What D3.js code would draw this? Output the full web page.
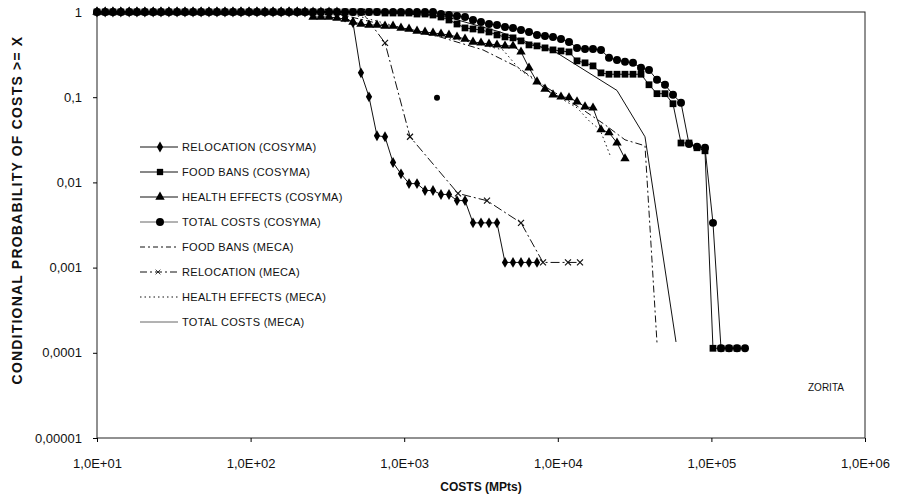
<!DOCTYPE html>
<html>
<head>
<meta charset="utf-8">
<script src="https://cdn.jsdelivr.net/npm/d3@7"></script>
<style>
body { margin: 0; background: #fff; }
text { font-family: "Liberation Sans", Arial, sans-serif; fill: #111; }
</style>
</head>
<body>
<div id="chart"></div>
<script>
const width = 918
const height = 496

// cost classes (MPts) used by the COSYMA curves
const costClasses = [
  10, 11.3, 12.7, 14.3, 16.2, 18.2, 20.5, 23.2, 26.1, 29.4,
  33.2, 37.4, 42.2, 47.6, 53.6, 60.4, 68.1, 76.8, 86.6, 97.7,
  110, 124, 140, 158, 178, 201, 226, 255, 287, 324,
  365, 412, 464, 523, 590, 665, 750, 846, 953, 1075,
  1212, 1366, 1540, 1736, 1957, 2207, 2488, 2805, 3162, 3565,
  4019, 4532, 5109, 5760, 6494, 7321, 8254, 9306, 10490, 11830,
  13340, 15040, 16950, 19110, 21540, 24290, 27380, 30870, 34810, 39240,
  44240, 49880, 56230, 63400, 71480, 80580, 90850, 102400, 115500, 130200,
  146800, 165500
]

const relocationCosyma = [
  1, 1, 1, 1, 1, 1, 1, 1, 1, 1,
  1, 1, 1, 1, 1, 1, 1, 1, 1, 1,
  1, 1, 1, 1, 1, 1, 1, 1, 1, 1,
  1, 0.87, 0.749, 0.193, 0.101, 0.0353, 0.0343, 0.0171, 0.0126, 0.00968,
  0.00968, 0.00804, 0.00804, 0.00722, 0.00722, 0.00612, 0.00612, 0.00335, 0.00335, 0.00335,
  0.00335, 0.00115, 0.00115, 0.00115, 0.00115, 0.00115
]

const foodBansCosyma = [
  1, 1, 1, 1, 1, 1, 1, 1, 1, 1,
  1, 1, 1, 1, 1, 1, 1, 1, 1, 1,
  1, 1, 1, 1, 1, 1, 1, 1, 1, 1,
  1, 1, 1, 1, 1, 1, 0.973, 0.973, 0.973, 0.973,
  0.947, 0.947, 0.922, 0.874, 0.806, 0.723, 0.650, 0.632, 0.615, 0.583,
  0.538, 0.510, 0.497, 0.458, 0.411, 0.400, 0.379, 0.359, 0.349, 0.340,
  0.267, 0.253, 0.233, 0.193, 0.186, 0.186, 0.186, 0.186, 0.186, 0.140,
  0.110, 0.110, 0.0838, 0.029, 0.029, 0.0255, 0.0235, 0.000113, 0.000113, 0.000113,
  0.000113
]

const healthCosyma = [
  1, 1, 1, 1, 1, 1, 1, 1, 1, 1,
  1, 1, 1, 1, 1, 1, 1, 1, 1, 1,
  1, 1, 1, 1, 1, 1, 1, 0.874, 0.874, 0.874,
  0.851, 0.828, 0.764, 0.723, 0.704, 0.704, 0.686, 0.686, 0.650, 0.632,
  0.599, 0.583, 0.568, 0.553, 0.538, 0.510, 0.483, 0.445, 0.434, 0.422,
  0.411, 0.400, 0.400, 0.340, 0.221, 0.152, 0.125, 0.107, 0.101, 0.0988,
  0.0886, 0.0772, 0.0751, 0.0417, 0.0384, 0.0291, 0.0190
]

const totalCosyma = [
  1, 1, 1, 1, 1, 1, 1, 1, 1, 1,
  1, 1, 1, 1, 1, 1, 1, 1, 1, 1,
  1, 1, 1, 1, 1, 1, 1, 1, 1, 1,
  1, 1, 1, 1, 1, 1, 1, 1, 1, 1,
  1, 1, 1, 0.947, 0.922, 0.898, 0.874, 0.806, 0.764, 0.723,
  0.704, 0.667, 0.650, 0.615, 0.583, 0.538, 0.524, 0.510, 0.483, 0.445,
  0.379, 0.369, 0.369, 0.359, 0.290, 0.274, 0.260, 0.253, 0.221, 0.209,
  0.160, 0.140, 0.107, 0.0861, 0.0283, 0.0262, 0.0255, 0.00335, 0.000113, 0.000113,
  0.000113, 0.000113
]

// MECA curves: [cost, probability]
const foodBansMeca = [[10, 1], [329, 1], [898, 0.650], [1711, 0.510], [3259, 0.359], [5425, 0.227],
  [8507, 0.129], [13950, 0.0751], [20290, 0.0475], [27380, 0.0316], [36960, 0.0269], [44250, 0.00013]]
const relocationMeca = [[104, 1], [204, 1], [319, 1], [531, 1], [750, 0.434], [1091, 0.0343],
  [2240, 0.00742], [3460, 0.0061], [5760, 0.00335], [8010, 0.00115], [11650, 0.00115], [13950, 0.00115]]
const healthMeca = [[10, 1], [444, 0.95], [1141, 0.6], [2682, 0.445], [4398, 0.359], [5675, 0.209],
  [6592, 0.174], [8507, 0.122], [10810, 0.0936], [13340, 0.0751], [16200, 0.0515], [18820, 0.0417], [22210, 0.0195]]
const totalMeca = [[10, 1], [696, 1], [1899, 0.874], [4205, 0.583], [9881, 0.331], [24290, 0.12],
  [36960, 0.0343], [58830, 0.000134]]
const strayPoint = [[1635, 0.0988]]

const xTickValues = [1e1, 1e2, 1e3, 1e4, 1e5, 1e6]
const xTickLabels = ["1,0E+01", "1,0E+02", "1,0E+03", "1,0E+04", "1,0E+05", "1,0E+06"]
const yTickValues = [1, 0.1, 0.01, 0.001, 0.0001, 0.00001]
const yTickLabels = ["1", "0,1", "0,01", "0,001", "0,0001", "0,00001"]
const legendLabels = ["RELOCATION (COSYMA)", "FOOD BANS (COSYMA)", "HEALTH EFFECTS (COSYMA)", "TOTAL COSTS (COSYMA)",
  "FOOD BANS (MECA)", "RELOCATION (MECA)", "HEALTH EFFECTS (MECA)", "TOTAL COSTS (MECA)"]

const crossPath = "M-3,-3L3,3M-3,3L3,-3"

document.addEventListener('DOMContentLoaded', function ()
{
const svg = d3.select("#chart")
    .append("svg")
    .attr("width", width)
    .attr("height", height)

const x = d3.scaleLog().domain([10, 1e6]).range([97, 865])
const y = d3.scaleLog().domain([1e-5, 1]).range([438, 12])

const line = d3.line().x(d => x(d[0])).y(d => y(d[1]))
const pairs = probs => probs.map((p, i) => [costClasses[i], p])

/* frame */
svg.append("rect")
    .attr("x", 97)
    .attr("y", 12)
    .attr("width", 768)
    .attr("height", 426)
    .attr("fill", "none")
    .attr("stroke", "#222")
    .attr("stroke-width", 1)

/* axes */
const xAxis = svg.append("g")
    .attr("transform", "translate(0,438)")
    .call(d3.axisBottom(x).tickValues(xTickValues).tickFormat((d, i) => xTickLabels[i])
        .tickSize(4).tickPadding(17).tickSizeOuter(0))
xAxis.select(".domain").remove()
xAxis.selectAll("text").attr("font-size", 13).attr("font-family", null)

const yAxis = svg.append("g")
    .attr("transform", "translate(97,0)")
    .call(d3.axisLeft(y).tickValues(yTickValues).tickFormat((d, i) => yTickLabels[i])
        .tickSize(4).tickPadding(11).tickSizeOuter(0))
yAxis.select(".domain").remove()
yAxis.selectAll("text").attr("font-size", 13).attr("font-family", null)

svg.append("text")
    .attr("x", 481)
    .attr("y", 491)
    .attr("text-anchor", "middle")
    .attr("font-size", 12)
    .attr("font-weight", "bold")
    .text("COSTS (MPts)")

svg.append("text")
    .attr("transform", "translate(22,210) rotate(-90)")
    .attr("text-anchor", "middle")
    .attr("font-size", 14)
    .attr("font-weight", "bold")
    .attr("letter-spacing", 1.2)
    .text("CONDITIONAL PROBABILITY OF COSTS >= X")

svg.append("text")
    .attr("x", 808)
    .attr("y", 391)
    .attr("font-size", 10)
    .text("ZORITA")

/* MECA lines */
const mecaStyles = [
    {data: foodBansMeca, dash: "7,3,2,3"},
    {data: relocationMeca, dash: "9,3,2,3"},
    {data: healthMeca, dash: "1.5,3"},
    {data: totalMeca, dash: null}
]
mecaStyles.forEach(s => {
    svg.append("path")
        .attr("d", line(s.data))
        .attr("fill", "none")
        .attr("stroke", "#111")
        .attr("stroke-width", 1)
        .attr("stroke-dasharray", s.dash)
})
svg.selectAll(".xmark")
    .data(relocationMeca)
    .enter()
    .append("path")
    .attr("class", "xmark")
    .attr("d", crossPath)
    .attr("transform", d => `translate(${x(d[0])},${y(d[1])})`)
    .attr("stroke", "#111")
    .attr("stroke-width", 1.2)
    .attr("fill", "none")

/* COSYMA lines and markers */
const cosyma = [
    {data: pairs(relocationCosyma), symbol: d3.symbolDiamond, size: 34},
    {data: pairs(healthCosyma), symbol: d3.symbolTriangle, size: 38},
    {data: pairs(totalCosyma), symbol: d3.symbolCircle, size: 50},
    {data: pairs(foodBansCosyma), symbol: d3.symbolSquare, size: 46}
]
cosyma.forEach(s => {
    svg.append("path")
        .attr("d", line(s.data))
        .attr("fill", "none")
        .attr("stroke", "#111")
        .attr("stroke-width", 1)
})
cosyma.forEach(s => {
    svg.append("g").selectAll("path")
        .data(s.data)
        .enter()
        .append("path")
        .attr("d", d3.symbol().type(s.symbol).size(s.size))
        .attr("transform", d => `translate(${x(d[0])},${y(d[1])})`)
        .attr("fill", "#000")
})
svg.selectAll(".stray")
    .data(strayPoint)
    .enter()
    .append("circle")
    .attr("class", "stray")
    .attr("cx", d => x(d[0]))
    .attr("cy", d => y(d[1]))
    .attr("r", 3)
    .attr("fill", "#000")

/* legend */
const legendSymbols = [d3.symbolDiamond, d3.symbolSquare, d3.symbolTriangle, d3.symbolCircle, null, "x", null, null]
const legendSizes = [34, 40, 38, 50, 0, 0, 0, 0]
const legendDash = [null, null, null, null, "5,3,2,3", "7,3,2,3", "1.5,3", null]
const legend = svg.selectAll(".legend")
    .data(legendLabels)
    .enter()
    .append("g")
    .attr("class", "legend")
    .attr("transform", (_, i) => `translate(140,${147 + i * 25})`)
legend.append("line")
    .attr("x1", 0)
    .attr("x2", 38)
    .attr("stroke", (_, i) => i === 3 || i === 7 ? "#666" : "#111")
    .attr("stroke-width", 1)
    .attr("stroke-dasharray", (_, i) => legendDash[i])
legend.filter((_, i) => legendSymbols[i] && legendSymbols[i] !== "x")
    .append("path")
    .attr("transform", "translate(20,0)")
    .attr("d", (_, i) => d3.symbol().type(legendSymbols[i]).size(legendSizes[i])())
    .attr("fill", "#000")
legend.filter((_, i) => legendSymbols[i] === "x")
    .append("path")
    .attr("transform", "translate(18,0) scale(0.8)")
    .attr("d", crossPath)
    .attr("stroke", "#111")
    .attr("fill", "none")
legend.append("text")
    .attr("x", 42)
    .attr("dy", "0.36em")
    .attr("font-size", 11)
    .attr("letter-spacing", 0.3)
    .text(d => d)
}, { once: true });
</script>
</body>
</html>
